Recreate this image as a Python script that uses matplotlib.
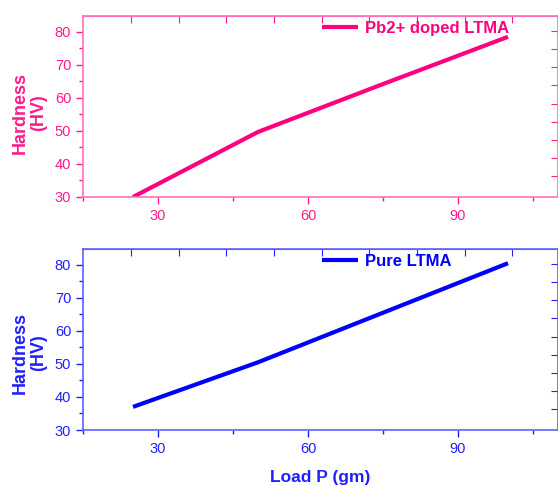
import matplotlib
matplotlib.use("Agg")
import matplotlib.pyplot as plt
from matplotlib.ticker import MultipleLocator

plt.rcParams['font.family'] = ['Liberation Sans', 'DejaVu Sans']

# load in gm
load = [25, 50, 75, 100]
hardness_pb = [30, 49.7, 64.2, 78.5]
hardness_pure = [37, 50.5, 65.5, 80.5]

pink = '#ff0080'
pink_txt = '#ff1a8c'
pink_spine = '#ff70b8'
blue = '#0000ff'
blue_txt = '#2020ff'
blue_spine = '#6060ff'

fig = plt.figure(figsize=(5.58, 4.87), dpi=100)
ax1 = fig.add_axes([83/558, 1-197/487, 475/558, 181/487])
ax2 = fig.add_axes([83/558, 1-430/487, 475/558, 181/487])


def style(ax, x, y, line_c, txt_c, spine_c, label, label_y):
    ax.plot(x, y, color=line_c, lw=3, label=label, solid_capstyle='butt')
    ax.set_xlim(15, 110)
    ax.set_ylim(30, 84.8)
    ax.xaxis.set_major_locator(MultipleLocator(30))
    ax.xaxis.set_minor_locator(MultipleLocator(15))
    ax.yaxis.set_major_locator(MultipleLocator(10))
    ax.yaxis.set_minor_locator(MultipleLocator(5))
    for s in ax.spines.values():
        s.set_color(spine_c)
        s.set_linewidth(1.2)
    ax.tick_params(which='both', direction='out', colors=txt_c, labelsize=10.5,
                   labelcolor=txt_c)
    ax.tick_params(which='major', length=5, width=1)
    ax.tick_params(which='minor', length=3, width=1)
    ax.set_ylabel('Hardness\n(HV)', fontsize=13, fontweight='bold',
                  color=txt_c, linespacing=1.05)
    ax.yaxis.set_label_coords(-0.076, label_y)
    # odd top/right ticks, drawn inside
    top = ax.secondary_xaxis('top')
    top.set_xticks([24.6 + 9.53 * k for k in range(9)])
    top.tick_params(direction='in', length=5, colors=txt_c, labeltop=False)
    top.spines['top'].set_color(spine_c)
    right = ax.secondary_yaxis('right')
    right.set_yticks([80.3 - 5.5 * k for k in range(9)])
    right.tick_params(direction='in', length=5, colors=txt_c, labelright=False)
    right.spines['right'].set_color(spine_c)
    leg = ax.legend(loc='upper left', bbox_to_anchor=(0.4886, 1.01), frameon=False,
                    handlelength=2.2, handletextpad=0.4, borderaxespad=0,
                    prop={'weight': 'bold', 'size': 12})
    for t in leg.get_texts():
        t.set_color(line_c)


style(ax1, load, hardness_pb, pink, pink_txt, pink_spine, 'Pb2+ doped LTMA', 0.465)
style(ax2, load, hardness_pure, blue, blue_txt, blue_spine, 'Pure LTMA', 0.425)
ax2.set_xlabel('Load P (gm)', fontsize=12.5, fontweight='bold', color=blue_txt,
               labelpad=10)

fig.savefig('out.png', dpi=100)
